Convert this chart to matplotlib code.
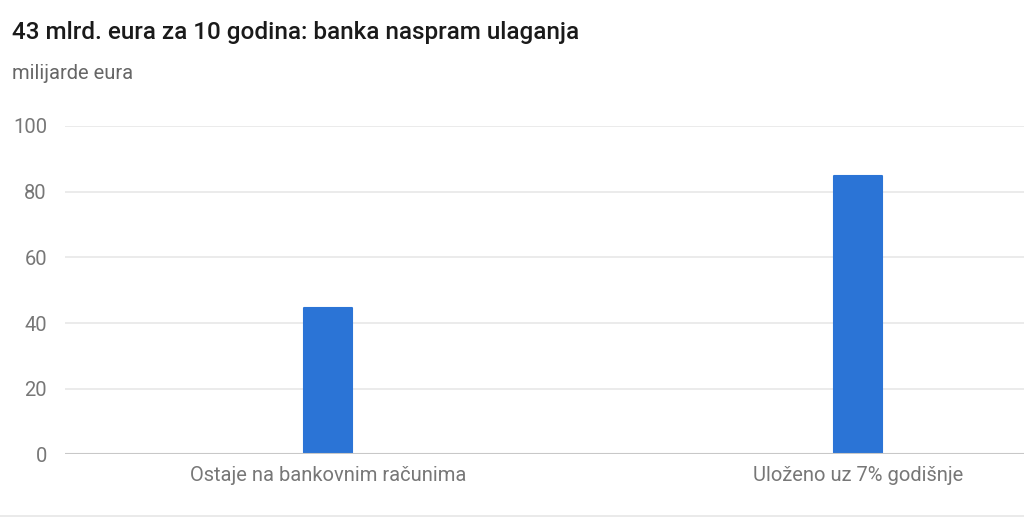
import matplotlib.pyplot as plt

# Podaci
categories = ['Ostaje na bankovnim računima', 'Uloženo uz 7% godišnje']
values = [44.6, 84.6]
yticks = [0, 20, 40, 60, 80, 100]

plt.rcParams['font.family'] = ['Roboto', 'DejaVu Sans']

fig = plt.figure(figsize=(10.24, 5.2), dpi=100)
ax = fig.add_axes([0.0635, 0.126, 0.9365, 0.632])

x = range(len(categories))
bars = ax.bar(x, values, width=0.092, color='#2b74d6', zorder=3,
              edgecolor='#2b74d6', linewidth=1.5)
for b in bars:
    b.set_joinstyle('round')

ax.set_xlim(-0.496, 1.313)
ax.set_ylim(0, 100)
ax.set_yticks(yticks)
ax.set_xticks(list(x))
ax.set_xticklabels(categories)

ax.grid(axis='y', color='#e8e8e8', linewidth=1.2, zorder=0)
ax.axhline(0, color='#c8c8c8', linewidth=1.5, zorder=4)
for s in ax.spines.values():
    s.set_visible(False)
ax.tick_params(axis='both', length=0, colors='#777777', labelsize=14.5)
ax.tick_params(axis='y', pad=13)
ax.tick_params(axis='x', pad=8)

fig.text(0.012, 0.937, '43 mlrd. eura za 10 godina: banka naspram ulaganja',
         fontsize=17.5, color='#1a1a1a', va='center', ha='left', fontweight='medium')
fig.text(0.012, 0.858, 'milijarde eura', fontsize=14.5, color='#666666',
         va='center', ha='left')

# donja linija
fig.add_artist(plt.Line2D([0, 1], [0.008, 0.008], color='#e6e6e6', linewidth=1.2,
                          transform=fig.transFigure))

plt.savefig('out.png', dpi=100)
